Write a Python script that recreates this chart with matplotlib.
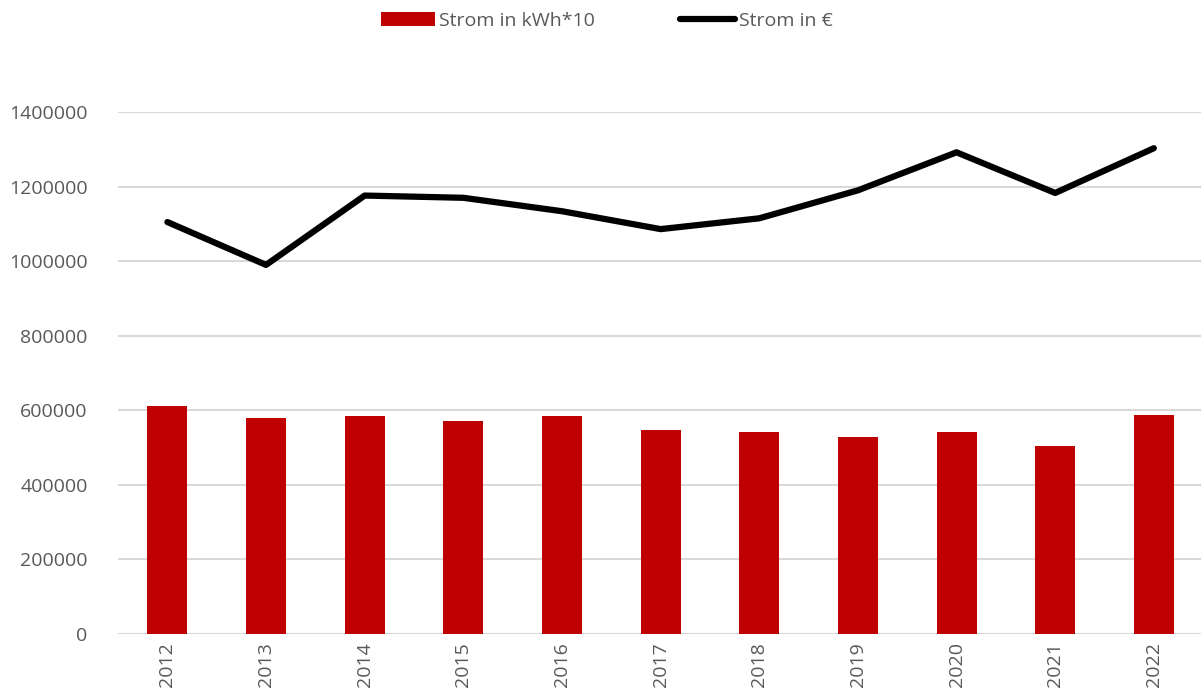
import numpy as np
import matplotlib.pyplot as plt

# values
years = ["2012", "2013", "2014", "2015", "2016", "2017",
         "2018", "2019", "2020", "2021", "2022"]
strom_kwh10 = [612000, 579000, 585000, 571000, 585000, 547000,
               542000, 528000, 542000, 504000, 587000]
strom_euro = [1105000, 990000, 1176000, 1170000, 1134000, 1086000,
              1115000, 1190000, 1292000, 1183000, 1303000]

plt.rcParams['font.family'] = ['Open Sans', 'DejaVu Sans']

fig = plt.figure(figsize=(12.01, 6.99), dpi=100)
ax = fig.add_axes([0.0983, 0.093, 0.9035, 0.7467])

x = np.arange(len(years))
bars = ax.bar(x, strom_kwh10, width=0.405, color='#C00000', label='Strom in kWh*10', zorder=2)
line, = ax.plot(x, strom_euro, color='black', linewidth=4.5, solid_capstyle='round',
                label='Strom in €', zorder=3)

ax.set_xlim(-0.5, len(years) - 0.5)
ax.set_ylim(0, 1400000)
ax.set_yticks(np.arange(0, 1400001, 200000))
ax.set_yticklabels([str(v) for v in range(0, 1400001, 200000)])
ax.set_xticks(x)
ax.set_xticklabels(years, rotation=90)

ax.grid(axis='y', color='#D9D9D9', linewidth=1.5, zorder=0)
for s in ax.spines.values():
    s.set_visible(False)
ax.tick_params(axis='both', length=0, labelsize=14, colors='#595959')
ax.tick_params(axis='y', pad=22)
ax.tick_params(axis='x', pad=6)

fig.legend(handles=[bars, line], loc='upper center', ncol=2,
           bbox_to_anchor=(0.505, 1.008), frameon=False,
           fontsize=14, labelcolor='#595959', handlelength=2.8, handletextpad=0.2,
           columnspacing=4.4)

fig.savefig('out.png', dpi=100)
